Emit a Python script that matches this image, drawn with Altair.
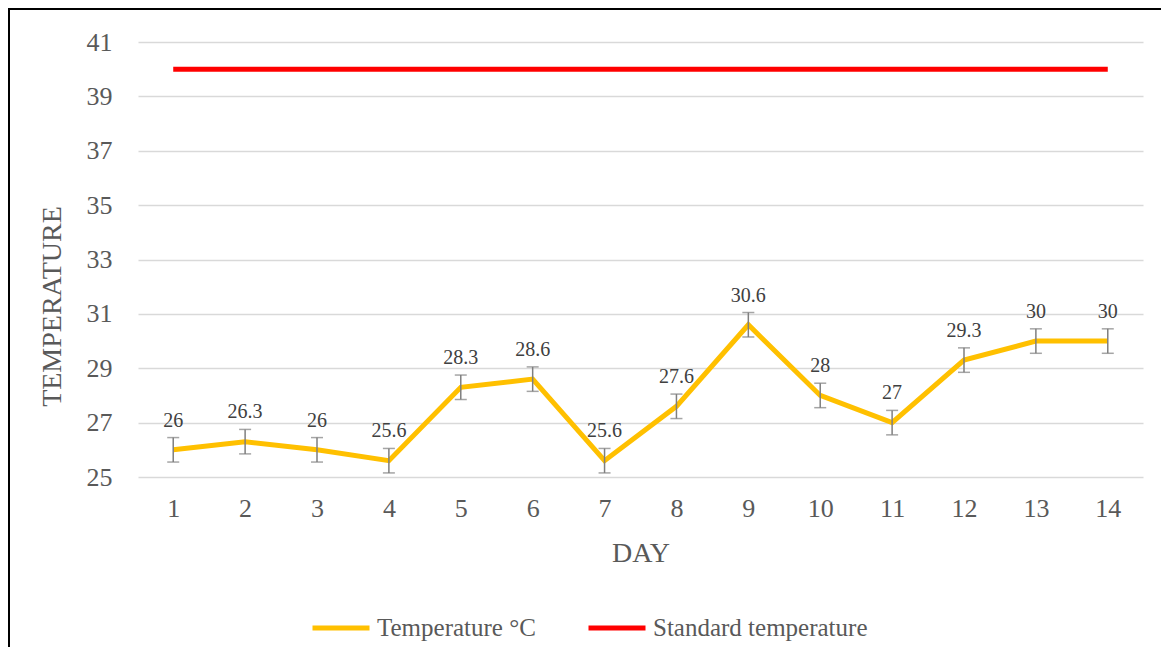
import altair as alt
import pandas as pd

days = list(range(1, 15))
temperature = [26, 26.3, 26, 25.6, 28.3, 28.6, 25.6, 27.6, 30.6, 28, 27, 29.3, 30, 30]
error = [0.45] * 14
standard = [40] * 14
series_names = ["Temperature °C", "Standard temperature"]
series_colors = ["#FFC000", "#FF0000"]
y_ticks = [25, 27, 29, 31, 33, 35, 37, 39, 41]

FONT = "Liberation Serif"

long_rows = []
for d, t, s in zip(days, temperature, standard):
    long_rows.append({"day": d, "value": t, "series": series_names[0]})
    long_rows.append({"day": d, "value": s, "series": series_names[1]})
lines_df = pd.DataFrame(long_rows)

temp_df = pd.DataFrame({
    "day": days,
    "value": temperature,
    "lo": [t - e for t, e in zip(temperature, error)],
    "hi": [t + e for t, e in zip(temperature, error)],
    "label": [("%g" % t) for t in temperature],
})

x_scale = alt.Scale(type="point", padding=0.49)
x_axis = alt.Axis(title="DAY", labelAngle=0, ticks=False, domain=False, grid=False,
                  labelFontSize=26, labelPadding=18, labelColor="#595959",
                  titleFontSize=28, titleFontWeight="normal", titleColor="#595959",
                  titleBaseline="alphabetic", titleY=84, labelFont=FONT, titleFont=FONT)
x_enc = alt.X("day:O", scale=x_scale, axis=x_axis)
y_scale = alt.Scale(domain=[25, 41], nice=False, zero=False)
y_axis = alt.Axis(title="TEMPERATURE", values=y_ticks, ticks=False, domain=False, grid=True,
                  gridColor="#d9d9d9", gridWidth=1.3, labelFontSize=26, labelPadding=26,
                  labelColor="#595959", titleFontSize=28, titleFontWeight="normal",
                  titleColor="#595959", titleAngle=270, titleX=-86, titleY=264,
                  titleAlign="center", titleBaseline="middle", labelFont=FONT, titleFont=FONT)

lines = alt.Chart(lines_df).mark_line(strokeWidth=5).encode(
    x=x_enc,
    y=alt.Y("value:Q", scale=y_scale, axis=y_axis),
    color=alt.Color("series:N", sort=series_names,
                    scale=alt.Scale(domain=series_names, range=series_colors),
                    legend=alt.Legend(title=None, orient="none", direction="horizontal",
                                      legendX=172, legendY=555, symbolType="stroke",
                                      symbolSize=3249, symbolStrokeWidth=5,
                                      labelFontSize=25, labelFont=FONT, labelColor="#595959",
                                      labelOffset=5, columnPadding=42, labelLimit=400)),
)

base = alt.Chart(temp_df).encode(x=x_enc)

err_rule = base.mark_rule(color="#7f7f7f", strokeWidth=1.5).encode(
    y=alt.Y("lo:Q", scale=y_scale, axis=y_axis), y2="hi:Q")
cap_lo = base.mark_tick(color="#7f7f7f", size=12, thickness=1.5).encode(
    y=alt.Y("lo:Q", scale=y_scale, axis=y_axis))
cap_hi = base.mark_tick(color="#7f7f7f", size=12, thickness=1.5).encode(
    y=alt.Y("hi:Q", scale=y_scale, axis=y_axis))
labels = base.mark_text(font=FONT, fontSize=20, color="#404040", baseline="alphabetic",
                        align="center", dy=-11).encode(
    y=alt.Y("hi:Q", scale=y_scale, axis=y_axis), text="label:N")

border = alt.Chart(pd.DataFrame({"a": [0]})).mark_rect(
    fillOpacity=0, stroke="#000000", strokeWidth=2).encode(
    x=alt.value(-129), x2=alt.value(1030), y=alt.value(-33), y2=alt.value(700))

chart = alt.layer(lines, err_rule, cap_lo, cap_hi, labels, border).properties(
    width=1005, height=435,
    autosize=alt.AutoSizeParams(type="none"),
    padding={"left": 130, "top": 34, "right": 18, "bottom": 170},
).configure(font=FONT).configure_view(stroke=None, strokeWidth=0)

chart.save("out.html", embed_options={"renderer": "svg", "actions": False})
